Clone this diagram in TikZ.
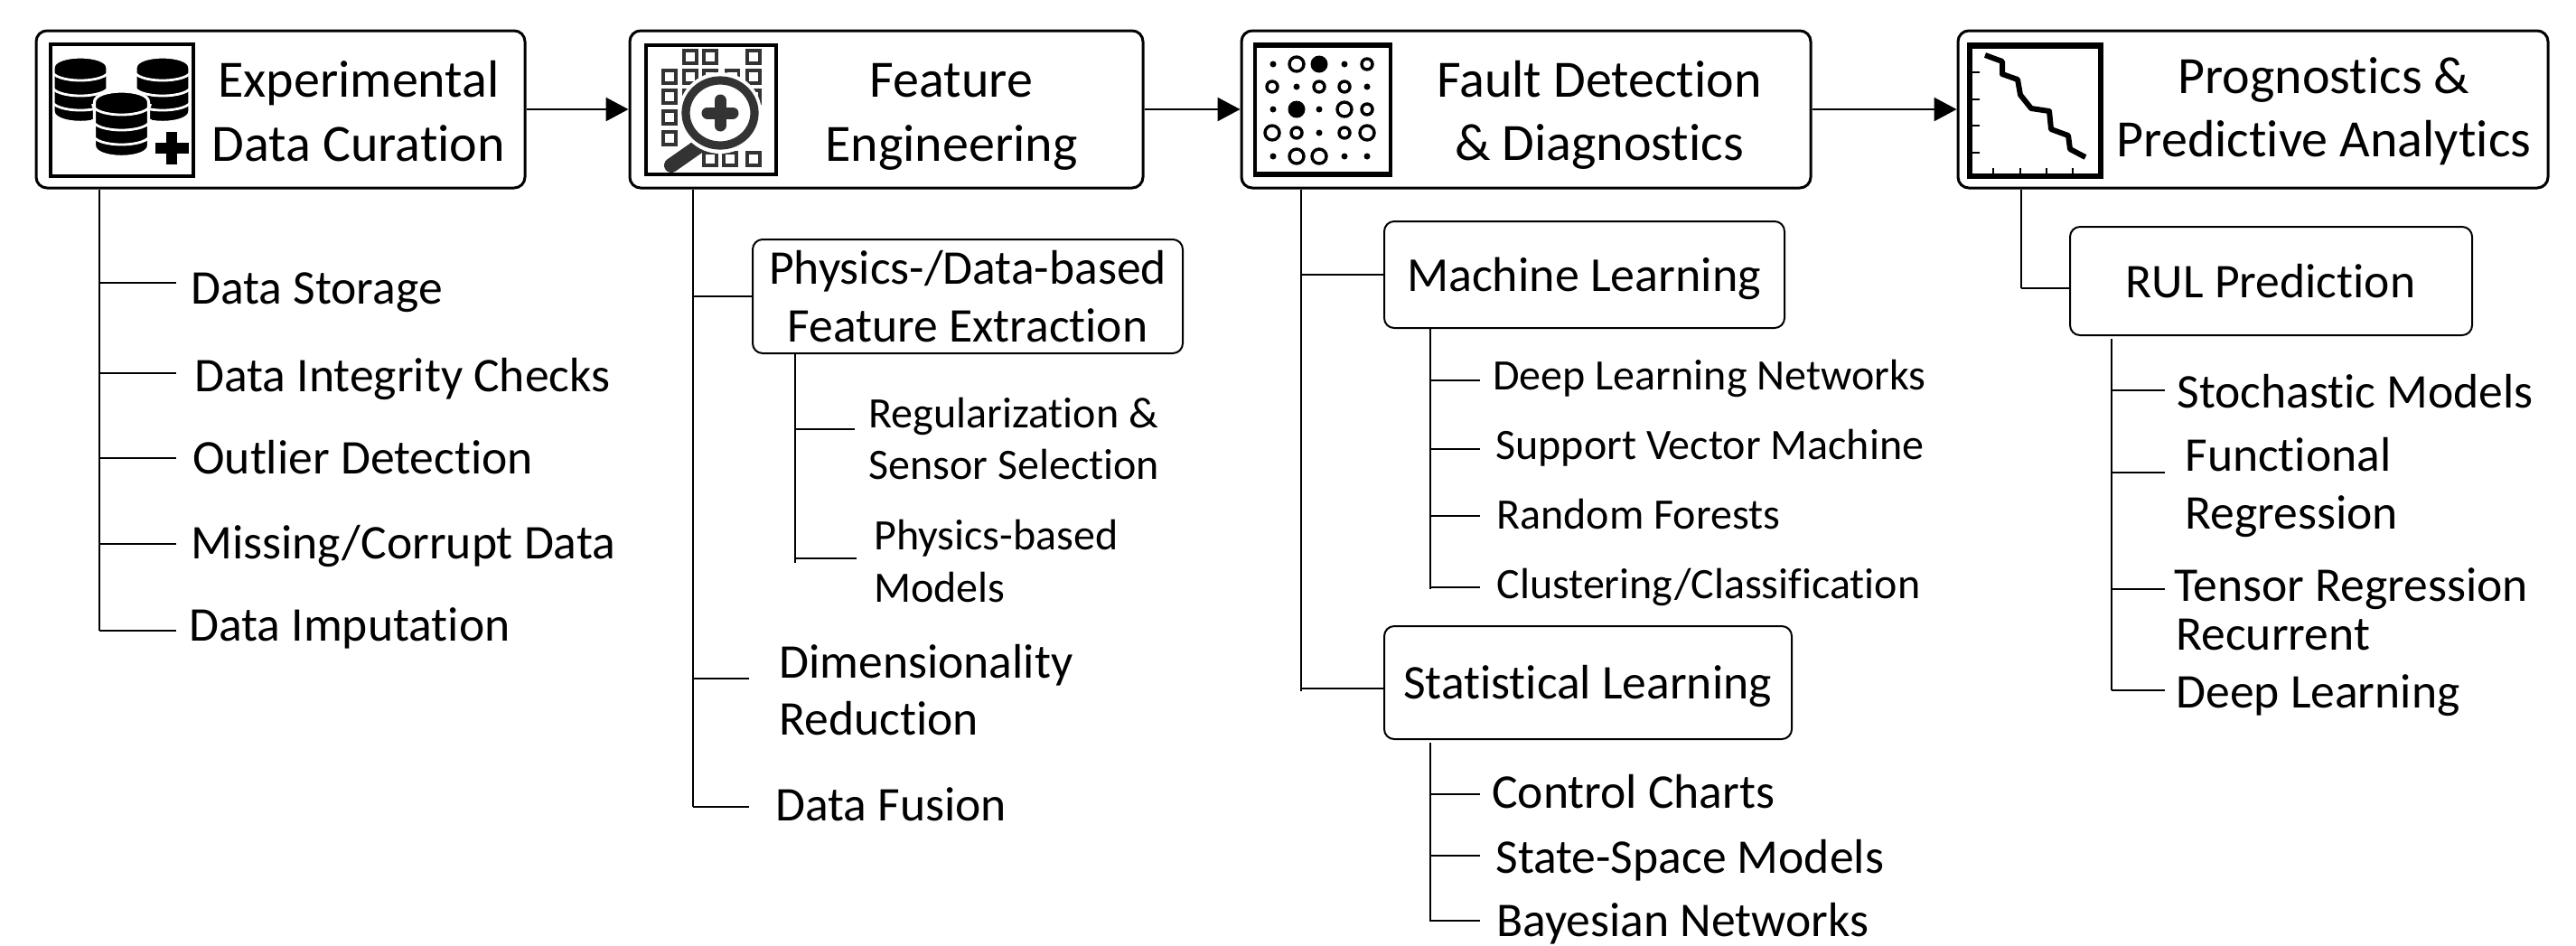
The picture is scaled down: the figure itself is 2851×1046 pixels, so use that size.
\documentclass[tikz,border=0pt]{standalone}
\usepackage{fontspec}
\setmainfont[RawFeature={-liga;-clig;-dlig}]{Carlito}
\usetikzlibrary{arrows.meta}
\newcommand{\twolc}[3]{\vtop{\baselineskip=#1\lineskiplimit=-100pt\relax\halign{\hfil##\hfil\cr #2\cr #3\cr}}}
\newcommand{\twoll}[3]{\vtop{\baselineskip=#1\lineskiplimit=-100pt\relax\halign{##\hfil\cr #2\cr #3\cr}}}
% box from pixel corners
\newcommand{\pbox}[6]{\node[#1,minimum width={(#5-#3)*0.5},minimum height={(#6-#4)*0.5}] (#2) at ({(#3+#5)/2},{(#4+#6)/2}) {};}
% branch from a trunk coordinate to a named end coordinate
\newcommand{\branch}[2]{\draw[conn] (#1 |- #2) -- (#2);}
\newcommand{\dbstack}[2]{%
\begin{scope}[shift={(#1,#2)}]
\path[draw=white,line width=1.6pt,fill=black] (-30,12) -- (-30,60) .. controls (-30,76.5) and (30,76.5) .. (30,60) -- (30,12) .. controls (30,-4) and (-30,-4) .. (-30,12) -- cycle;
\foreach \d in {14,31,47}{\draw[white,line width=1.4pt] (-32,\d) .. controls (-32,{\d+16}) and (32,{\d+16}) .. (32,\d);}
\end{scope}}
\tikzset{
  x=0.5pt,y=-0.5pt,
  hbox/.style={draw=black,line width=1.5pt,rounded corners=6pt,inner sep=0pt,fill=white},
  sbox/.style={draw=black,line width=1pt,rounded corners=5.5pt,inner sep=0pt,fill=white},
  conn/.style={draw=black,line width=1pt},
  flow/.style={draw=black,line width=1.3pt,-{Triangle[length=12.5pt,width=13pt]}},
  hdr/.style={inner sep=0pt,anchor=base,font=\fontsize{29}{34}\selectfont},
  lab/.style={inner sep=0pt,anchor=base west,font=\fontsize{26.8}{32}\selectfont},
  sub/.style={inner sep=0pt,anchor=base west,font=\fontsize{24}{29}\selectfont},
  boxt/.style={inner sep=0pt,anchor=base,font=\fontsize{26.8}{32}\selectfont},
  sq/.style={draw=black!80,line width=1.8pt},
  ring/.style={draw=black,line width=1.7pt},
}
\begin{document}
\begin{tikzpicture}
\useasboundingbox (0,0) rectangle (2851,1046);
% trunk coordinates
\coordinate (t1) at (110,698);
\coordinate (t2) at (767,893);
\coordinate (t3) at (1440,765);
\coordinate (t4) at (2237,319);
\coordinate (s2) at (879.5,623);
\coordinate (s3a) at (1583,652);
\coordinate (s3b) at (1583,1020);
\coordinate (s4) at (2337,764);
% header boxes
\pbox{hbox}{h1}{40}{34}{581}{208}
\pbox{hbox}{h2}{697}{34}{1265}{208}
\pbox{hbox}{h3}{1374}{34}{2004}{208}
\pbox{hbox}{h4}{2167}{34}{2820}{208}
\draw[flow] (h1.east) -- (h2.west);
\draw[flow] (h2.east) -- (h3.west);
\draw[flow] (h3.east) -- (h4.west);
\node[hdr] (h1a) at (397,107) {\twolc{35.5pt}{Experimental}{Data Curation}};
\node[hdr] (h2a) at (1053,107) {\twolc{35.5pt}{Feature}{Engineering}};
\node[hdr] (h3a) at (1770,107) {\twolc{35pt}{Fault Detection}{\& Diagnostics}};
\node[hdr] (h4a) at (2572,103) {\twolc{35pt}{Prognostics \&}{Predictive Analytics}};
% column 1
\draw[conn] (h1.south -| t1) -- (t1);
\foreach \n/\y in {a/313,b/413,c/507,d/602,e/698}{\coordinate (e1\n) at (195,\y);\branch{t1}{e1\n}}
\node[lab] (l11) at (211,336) {Data Storage};
\node[lab] (l12) at (215,433) {Data Integrity Checks};
\node[lab] (l13) at (213,524) {Outlier Detection};
\node[lab] (l14) at (211,618) {Missing/Corrupt Data};
\node[lab] (l15) at (209,709) {Data Imputation};
% column 2
\draw[conn] (h2.south -| t2) -- (t2);
\pbox{sbox}{pf}{833}{265}{1309}{391}
\node[boxt] (pft) at (1071,314) {\twolc{32pt}{Physics-/Data-based}{Feature Extraction}};
\draw[conn] (t2 |- pf.west) -- (pf.west);
\draw[conn] (pf.south -| s2) -- (s2);
\coordinate (e2a) at (946,475); \branch{s2}{e2a}
\coordinate (e2b) at (948,618); \branch{s2}{e2b}
\node[sub] (l21) at (961,473) {\twoll{28.5pt}{Regularization \&}{Sensor Selection}};
\node[sub] (l22) at (967,608) {\twoll{29pt}{Physics-based}{Models}};
\coordinate (e2c) at (829,751); \branch{t2}{e2c}
\coordinate (e2d) at (829,893); \branch{t2}{e2d}
\node[lab] (l23) at (862,750) {\twoll{31.5pt}{Dimensionality}{Reduction}};
\node[lab] (l24) at (858,908) {Data Fusion};
% column 3
\draw[conn] (h3.south -| t3) -- (t3);
\pbox{sbox}{ml}{1532}{245}{1975}{363}
\pbox{sbox}{sl}{1532}{693}{1983}{818}
\node[boxt,font=\fontsize{27}{32}\selectfont] (mlt) at (1753,322) {Machine Learning};
\node[boxt] (slt) at (1757,773) {Statistical Learning};
\coordinate (eml) at (1532,304); \branch{t3}{eml}
\coordinate (esl) at (1532,762); \branch{t3}{esl}
\draw[conn] (ml.south -| s3a) -- (s3a);
\foreach \n/\y in {a/421,b/497,c/571,d/650}{\coordinate (e3\n) at (1638,\y);\branch{s3a}{e3\n}}
\node[sub] (l31) at (1652,431) {Deep Learning Networks};
\node[sub] (l32) at (1655,508) {Support Vector Machine};
\node[sub] (l33) at (1656,585) {Random Forests};
\node[sub] (l34) at (1656,662) {Clustering/Classification};
\coordinate (s3bt) at (1583,822);
\draw[conn] (s3bt) -- (s3b);
\foreach \n/\y in {e/879,f/947,g/1019}{\coordinate (e3\n) at (1638,\y);\branch{s3b}{e3\n}}
\node[lab] (l35) at (1651,894) {Control Charts};
\node[lab] (l36) at (1655,966) {State-Space Models};
\node[lab] (l37) at (1656,1036) {Bayesian Networks};
% column 4
\draw[conn] (h4.south -| t4) -- (t4);
\pbox{sbox}{ru}{2291}{251}{2736}{371}
\node[boxt] (rut) at (2513,329) {RUL Prediction};
\coordinate (eru) at (2291,319); \branch{t4}{eru}
\coordinate (s4t) at (2337,375);
\draw[conn] (s4t) -- (s4);
\foreach \n/\y in {a/432,b/523,c/652,d/764}{\coordinate (e4\n) at (2396,\y);\branch{s4}{e4\n}}
\node[lab] (l41) at (2409,451) {Stochastic Models};
\node[lab] (l42) at (2418,521) {\twoll{32pt}{Functional}{Regression}};
\node[lab] (l43) at (2406,665) {Tensor Regression};
\node[lab] (l44) at (2408,719) {\twoll{32pt}{Recurrent}{Deep Learning}};
% icon 1
\dbstack{89}{63}
\dbstack{180}{63}
\dbstack{134.5}{101}
\fill[black,draw=white,line width=1pt] (183,145) -- (197,145) -- (197,157) -- (210,157) -- (210,171) -- (197,171) -- (197,183) -- (183,183) -- (183,171) -- (171,171) -- (171,157) -- (183,157) -- cycle;
\draw[black,line width=2.4pt] (56,49) rectangle (214,195);
% icon 2
\foreach \x/\y in {764/63,786/63,834/63,741/85,764/85,786/85,810.5/85,834/85,741/107,764/107,834/107,741/130,741/153,786/176,808/176,834/176}
  {\draw[sq] ({\x-7},{\y-7}) rectangle ({\x+7},{\y+7});}
\draw[black!80,line width=8pt,line cap=round] (773,162) -- (743,183);
\fill[white] (797,125) ellipse [x radius=46,y radius=45];
\draw[black!80,line width=4.6pt] (797,125) ellipse [x radius=38,y radius=36];
\draw[black!80,line width=6.5pt,line cap=round] (783,125) -- (811,125) (797,111) -- (797,139);
\draw[black,line width=2.4pt] (715,50) rectangle (859,193);
% icon 3
\foreach \x/\y in {1409/71,1488/71,1435/96,1513/96,1409/121,1460/121,1460/147,1409/173,1488/173,1513/173}
  {\fill[black] (\x,\y) circle [radius=3.5];}
\foreach \x/\y in {1513/71,1408/96,1460/96,1488/96,1513/121,1435/147,1488/147}
  {\draw[ring] (\x,\y) circle [radius=6];}
\foreach \x/\y in {1435/71,1488/121,1408/147,1513/147,1435/173,1460/173}
  {\draw[ring] (\x,\y) circle [radius=8];}
\fill[black] (1460,71) circle [radius=9.5];
\fill[black] (1435,121) circle [radius=9.5];
\draw[black,line width=1.8pt] (1389,49) rectangle (1539,194);
\fill[black] (1388,47) rectangle (1540,53);
\fill[black] (1388,190) rectangle (1540,196);
% icon 4
\draw[black,line width=2.8pt] (2180,51) rectangle (2325,195);
\fill[black] (2177,47) rectangle (2328,54);
\foreach \y in {80,110,139,169}{\draw[black,line width=1.2pt] (2180,\y) -- (2191,\y);}
\foreach \x in {2206,2236,2265,2294}{\draw[black,line width=1.2pt] (\x,195) -- (\x,186);}
\draw[black,line width=3pt,line join=round] (2197,61) -- (2216,68) -- (2216,82) -- (2233,88) -- (2236,105) -- (2248,120) -- (2268,123) -- (2270,143) -- (2289,150) -- (2291,165) -- (2308,174);
\end{tikzpicture}
\end{document}
